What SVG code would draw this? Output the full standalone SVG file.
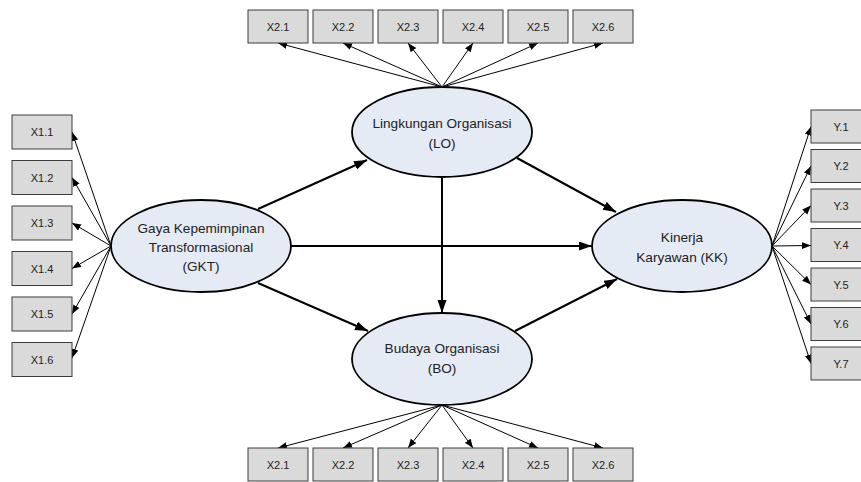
<svg xmlns="http://www.w3.org/2000/svg" width="861" height="482" viewBox="0 0 861 482">
<style>
.box rect{fill:#dadada;stroke:#3c3c3c;stroke-width:1}
.box text{font-family:"Liberation Sans",Arial,sans-serif;font-size:11px;fill:#222;text-anchor:middle}
.lat ellipse{fill:#e5ebf5;stroke:#000;stroke-width:1.8}
.lat text{font-family:"Liberation Sans",Arial,sans-serif;font-size:13.6px;fill:#222;text-anchor:middle}
.ind{stroke:#000;stroke-width:1;fill:none;marker-end:url(#s)}
.str{stroke:#000;stroke-width:2;fill:none;marker-end:url(#b)}
</style>
<defs>
<marker id="s" markerUnits="userSpaceOnUse" markerWidth="10" markerHeight="8" refX="9" refY="3.5" orient="auto"><path d="M0,0 L9,3.5 L0,7 z" fill="#000"/></marker>
<marker id="b" markerUnits="userSpaceOnUse" markerWidth="14" markerHeight="10" refX="13" refY="4.5" orient="auto"><path d="M0,0 L13,4.5 L0,9 z" fill="#000"/></marker>
</defs>
<g id="connectors">
<path class="ind" d="M442,87 L278,43"/>
<path class="ind" d="M442,87 L343,43"/>
<path class="ind" d="M442,87 L408,43"/>
<path class="ind" d="M442,87 L473,43"/>
<path class="ind" d="M442,87 L538,43"/>
<path class="ind" d="M442,87 L603,43"/>
<path class="ind" d="M442,405 L278,448"/>
<path class="ind" d="M442,405 L343,448"/>
<path class="ind" d="M442,405 L408,448"/>
<path class="ind" d="M442,405 L473,448"/>
<path class="ind" d="M442,405 L538,448"/>
<path class="ind" d="M442,405 L603,448"/>
<path class="ind" d="M111,246 L72,132"/>
<path class="ind" d="M111,246 L72,177.5"/>
<path class="ind" d="M111,246 L72,223"/>
<path class="ind" d="M111,246 L72,268.5"/>
<path class="ind" d="M111,246 L72,314"/>
<path class="ind" d="M111,246 L72,358"/>
<path class="ind" d="M772,246 L811,126.5"/>
<path class="ind" d="M772,246 L811,166"/>
<path class="ind" d="M772,246 L811,205.5"/>
<path class="ind" d="M772,246 L811,245.5"/>
<path class="ind" d="M772,246 L811,284.5"/>
<path class="ind" d="M772,246 L811,324"/>
<path class="ind" d="M772,246 L811,363.5"/>
<path class="str" d="M258,209 L367,160"/>
<path class="str" d="M258,283 L368,331"/>
<path class="str" d="M291,246 L592,246"/>
<path class="str" d="M442,177 L442,313"/>
<path class="str" d="M517,158 L616,212"/>
<path class="str" d="M515,331 L617,279"/>
</g>
<g id="LO" class="lat"><ellipse cx="442" cy="132" rx="90" ry="45"/><text x="442" y="128">Lingkungan Organisasi</text><text x="442" y="148">(LO)</text></g>
<g id="BO" class="lat"><ellipse cx="442" cy="359" rx="90" ry="46"/><text x="442" y="353">Budaya Organisasi</text><text x="442" y="373">(BO)</text></g>
<g id="GKT" class="lat"><ellipse cx="201" cy="246" rx="90" ry="46"/><text x="201" y="233">Gaya Kepemimpinan</text><text x="201" y="252">Transformasional</text><text x="201" y="271">(GKT)</text></g>
<g id="KK" class="lat"><ellipse cx="682" cy="246" rx="90" ry="46"/><text x="682" y="242">Kinerja</text><text x="682" y="262">Karyawan (KK)</text></g>
<g id="T1" class="box"><rect x="248" y="10" width="60" height="33"/><text x="278" y="30.5">X2.1</text></g>
<g id="T2" class="box"><rect x="313" y="10" width="60" height="33"/><text x="343" y="30.5">X2.2</text></g>
<g id="T3" class="box"><rect x="378" y="10" width="60" height="33"/><text x="408" y="30.5">X2.3</text></g>
<g id="T4" class="box"><rect x="443" y="10" width="60" height="33"/><text x="473" y="30.5">X2.4</text></g>
<g id="T5" class="box"><rect x="508" y="10" width="60" height="33"/><text x="538" y="30.5">X2.5</text></g>
<g id="T6" class="box"><rect x="573" y="10" width="60" height="33"/><text x="603" y="30.5">X2.6</text></g>
<g id="B1" class="box"><rect x="248" y="448" width="60" height="33"/><text x="278" y="468.5">X2.1</text></g>
<g id="B2" class="box"><rect x="313" y="448" width="60" height="33"/><text x="343" y="468.5">X2.2</text></g>
<g id="B3" class="box"><rect x="378" y="448" width="60" height="33"/><text x="408" y="468.5">X2.3</text></g>
<g id="B4" class="box"><rect x="443" y="448" width="60" height="33"/><text x="473" y="468.5">X2.4</text></g>
<g id="B5" class="box"><rect x="508" y="448" width="60" height="33"/><text x="538" y="468.5">X2.5</text></g>
<g id="B6" class="box"><rect x="573" y="448" width="60" height="33"/><text x="603" y="468.5">X2.6</text></g>
<g id="X11" class="box"><rect x="12" y="115" width="60" height="34"/><text x="42" y="136">X1.1</text></g>
<g id="X12" class="box"><rect x="12" y="160.5" width="60" height="34"/><text x="42" y="181.5">X1.2</text></g>
<g id="X13" class="box"><rect x="12" y="206" width="60" height="34"/><text x="42" y="227">X1.3</text></g>
<g id="X14" class="box"><rect x="12" y="251.5" width="60" height="34"/><text x="42" y="272.5">X1.4</text></g>
<g id="X15" class="box"><rect x="12" y="297" width="60" height="34"/><text x="42" y="318">X1.5</text></g>
<g id="X16" class="box"><rect x="12" y="342.5" width="60" height="34"/><text x="42" y="363.5">X1.6</text></g>
<g id="Y1" class="box"><rect x="811" y="110" width="60" height="33"/><text x="841" y="130.5">Y.1</text></g>
<g id="Y2" class="box"><rect x="811" y="149.5" width="60" height="33"/><text x="841" y="170">Y.2</text></g>
<g id="Y3" class="box"><rect x="811" y="189" width="60" height="33"/><text x="841" y="209.5">Y.3</text></g>
<g id="Y4" class="box"><rect x="811" y="228.5" width="60" height="33"/><text x="841" y="249">Y.4</text></g>
<g id="Y5" class="box"><rect x="811" y="268" width="60" height="33"/><text x="841" y="288.5">Y.5</text></g>
<g id="Y6" class="box"><rect x="811" y="307.5" width="60" height="33"/><text x="841" y="328">Y.6</text></g>
<g id="Y7" class="box"><rect x="811" y="347" width="60" height="33"/><text x="841" y="367.5">Y.7</text></g>
</svg>
